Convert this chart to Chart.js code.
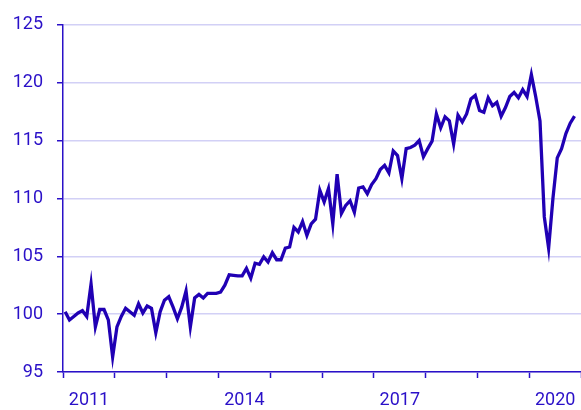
<!DOCTYPE html>
<html>
<head>
<meta charset="utf-8">
<script src="https://cdn.jsdelivr.net/npm/chart.js@4"></script>
<style>
  body { margin: 0; background: #fff; }
  #wrap { width: 581px; height: 410px; }
</style>
</head>
<body>
<div id="wrap"><canvas id="chart"></canvas></div>
<script>
// monthly index, Jan 2011 - Nov 2020
const startYear = 2011;
const values = [
  100.2, 99.5, 99.8, 100.1, 100.3, 99.8, 102.6, 98.9, 100.4, 100.4, 99.5, 96.3,
  98.9, 99.8, 100.5, 100.2, 99.9, 100.9, 100.1, 100.7, 100.5, 98.4, 100.2, 101.2,
  101.5, 100.6, 99.6, 100.6, 102.0, 98.9, 101.4, 101.7, 101.4, 101.8, 101.8, 101.8,
  101.9, 102.5, 103.4, 103.35, 103.3, 103.3, 103.95, 103.1, 104.4, 104.3, 104.95, 104.5,
  105.3, 104.7, 104.7, 105.7, 105.8, 107.5, 107.1, 108.0, 106.8, 107.8, 108.2, 110.7,
  109.7, 110.85, 107.8, 112.1, 108.7, 109.4, 109.8, 108.8, 110.9, 111.0, 110.4, 111.2,
  111.7, 112.5, 112.85, 112.2, 114.1, 113.7, 111.7, 114.3, 114.4, 114.6, 115.0, 113.6,
  114.3, 114.95, 117.3, 116.1, 117.05, 116.7, 114.7, 117.2, 116.6, 117.3, 118.6, 118.9,
  117.6, 117.45, 118.7, 118.0, 118.3, 117.1, 117.85, 118.8, 119.15, 118.7, 119.4, 118.8,
  120.7, 118.8, 116.7, 108.4, 105.7, 110.0, 113.5, 114.3, 115.6, 116.5, 117.1
];
const labelYears = [2011, 2014, 2017, 2020];
const yTicks = [95, 100, 105, 110, 115, 120, 125];

const months = values.map((v, i) => {
  const y = startYear + Math.floor(i / 12);
  const m = (i % 12) + 1;
  return y + '-' + (m < 10 ? '0' + m : m);
});

const ink = '#2a10c8';
const lineColor = '#2000b4';
const gridColor = '#d2d0f6';

const ctx = document.getElementById('chart').getContext('2d');
const chart = new Chart(ctx, {
  type: 'line',
  data: {
    labels: months,
    datasets: [{
      label: 'Index',
      data: values.map((v, i) => ({ x: i + 0.5, y: v })),
      borderColor: lineColor,
      borderWidth: 3.3,
      pointRadius: 0,
      fill: false,
      tension: 0
    }]
  },
  options: {
    animation: false,
    responsive: true,
    maintainAspectRatio: false,
    layout: { padding: { top: 14, right: 0, bottom: 0, left: 0 } },
    plugins: {
      legend: { display: false },
      tooltip: { enabled: false }
    },
    scales: {
      x: {
        type: 'linear',
        min: 0,
        max: 120,
        afterBuildTicks: (scale) => {
          const t = [];
          for (let v = 0; v <= 120; v += 12) t.push({ value: v });
          scale.ticks = t;
        },
        // fixed height, and no extra side padding from the tick labels
        afterFit: (scale) => {
          scale.height = 38;
          scale.paddingLeft = 0;
          scale.paddingRight = 0;
        },
        grid: {
          drawOnChartArea: false,
          drawTicks: true,
          tickLength: 6,
          tickColor: ink,
          tickWidth: 1.5
        },
        border: { color: ink, width: 1.5 },
        ticks: {
          color: ink,
          font: { family: 'Roboto', size: 18 },
          padding: 12,
          maxRotation: 0,
          autoSkip: false,
          labelOffset: 26,
          callback: (v) => {
            const yr = startYear + v / 12;
            return labelYears.includes(yr) ? String(yr) : '';
          }
        }
      },
      y: {
        min: 95,
        max: 125,
        afterBuildTicks: (scale) => { scale.ticks = yTicks.map(v => ({ value: v })); },
        afterFit: (scale) => { scale.width = 63; },
        grid: {
          color: gridColor,
          lineWidth: 1.5,
          tickLength: 6,
          tickColor: ink,
          tickWidth: 1.5
        },
        border: { color: ink, width: 1.5 },
        ticks: {
          color: ink,
          font: { family: 'Roboto', size: 18 },
          padding: 14
        }
      }
    }
  }
});
</script>
</body>
</html>
